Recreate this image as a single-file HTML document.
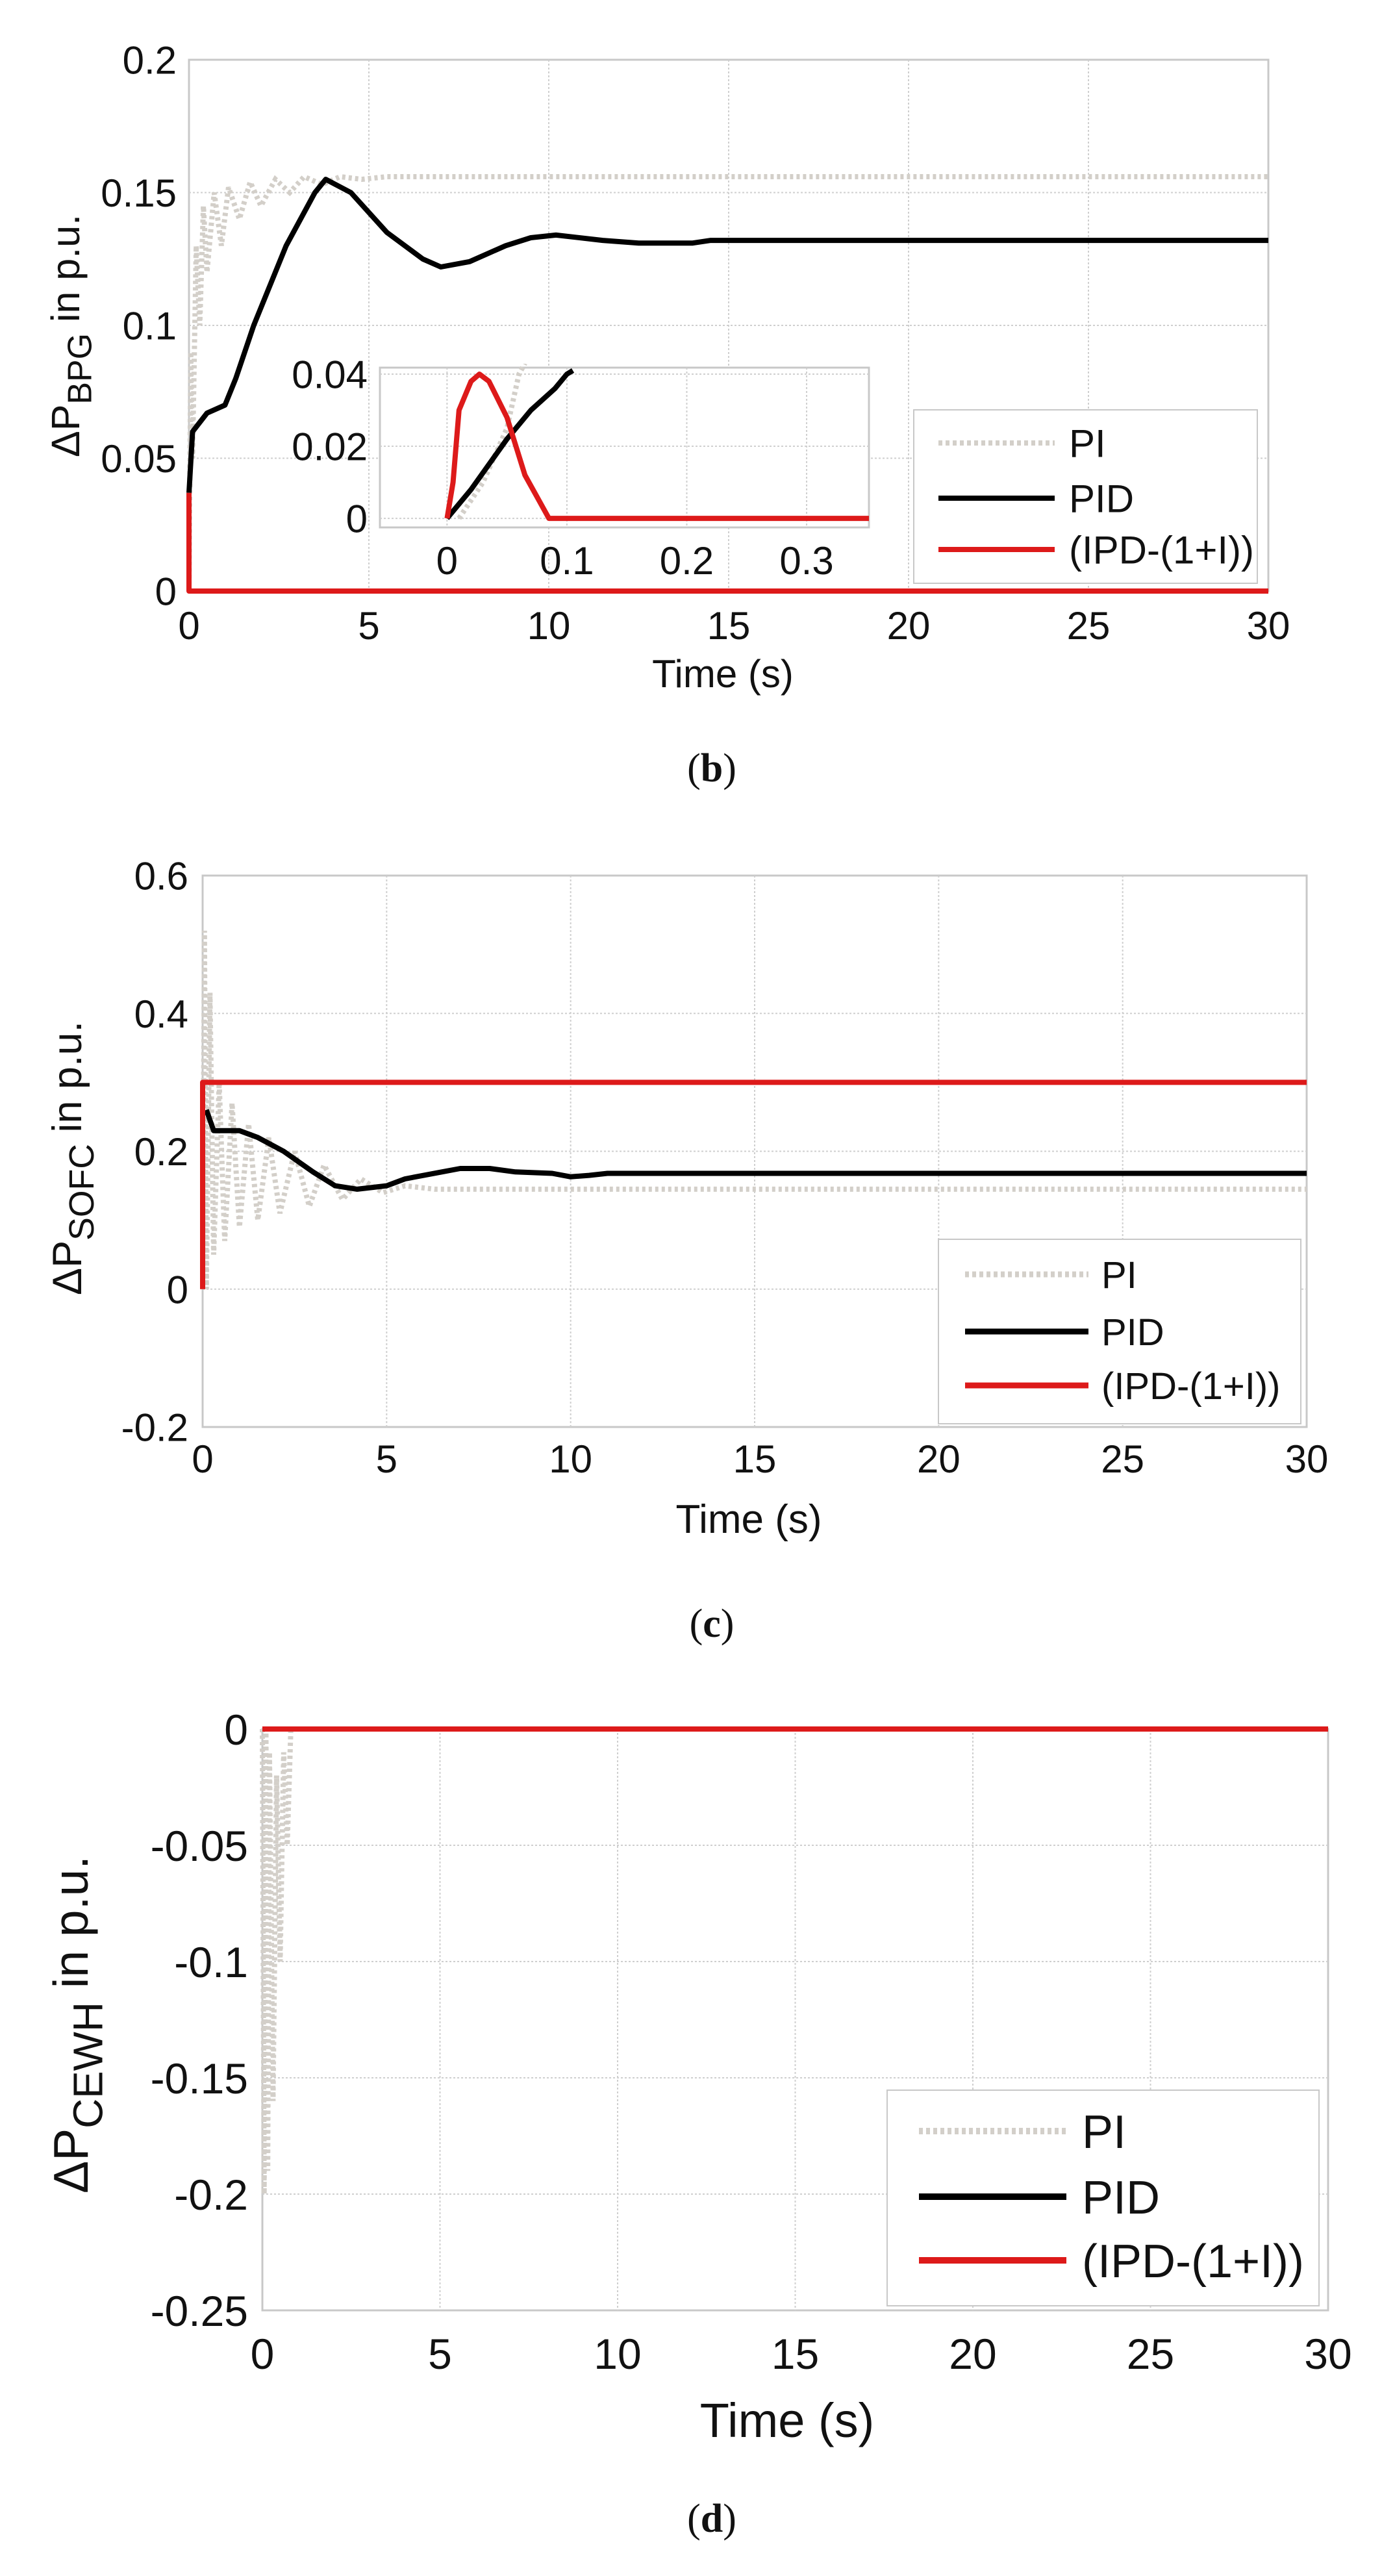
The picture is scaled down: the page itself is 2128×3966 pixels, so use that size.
<!DOCTYPE html>
<html><head><meta charset="utf-8"><style>
html,body{margin:0;padding:0;background:#fff}
svg{display:block}
text{font-family:"Liberation Sans",Arial,sans-serif;fill:#111}
.cap{font-family:"Liberation Serif",serif}
</style></head><body>
<svg id="fig" width="2128" height="3966" viewBox="0 0 2128 3966" xmlns="http://www.w3.org/2000/svg">
<rect width="2128" height="3966" fill="#fff"/>
</svg>
<script>
// ---- Panel (b) data ----
const bXTicks=[0,5,10,15,20,25,30];
const bYTicks=[0,0.05,0.1,0.15,0.2];
const bYTickLabels=["0","0.05","0.1","0.15","0.2"];
const bPIt=[0,0.05,0.1,0.2,0.3,0.4,0.5,0.7,0.9,1.1,1.4,1.7,2.0,2.4,2.8,3.2,3.7,4.2,4.8,5.5,6,30];
const bPIv=[0,0.09,0.05,0.13,0.1,0.145,0.12,0.15,0.13,0.152,0.14,0.154,0.145,0.155,0.15,0.156,0.153,0.156,0.155,0.156,0.156,0.156];
const bPIDt=[0,0.1,0.5,1,1.3,1.8,2.7,3.5,3.8,4.5,5.5,6.5,7,7.8,8.8,9.5,10.2,11.5,12.5,14,14.5,30];
const bPIDv=[0.037,0.06,0.067,0.07,0.08,0.1,0.13,0.15,0.155,0.15,0.135,0.125,0.122,0.124,0.13,0.133,0.134,0.132,0.131,0.131,0.132,0.132];
const bIPDt=[0,0,0.085,30];
const bIPDv=[0.037,0,0,0];
// inset
const iXTicks=[0,0.1,0.2,0.3];
const iYTicks=[0,0.02,0.04];
const iIPDt=[0,0.005,0.01,0.02,0.027,0.035,0.05,0.065,0.075,0.085,0.352];
const iIPDv=[0,0.01,0.03,0.038,0.04,0.038,0.028,0.012,0.006,0,0];
const iPIDt=[0,0.02,0.05,0.07,0.09,0.1,0.105];
const iPIDv=[0,0.008,0.022,0.03,0.036,0.04,0.041];
const iPIt=[0.01,0.03,0.05,0.06,0.065];
const iPIv=[0,0.01,0.025,0.04,0.043];
// ---- Panel (c) data ----
const cXTicks=[0,5,10,15,20,25,30];
const cYTicks=[-0.2,0,0.2,0.4,0.6];
const cYTickLabels=["-0.2","0","0.2","0.4","0.6"];
const cPIt=[0,0.05,0.1,0.2,0.3,0.45,0.6,0.8,1.0,1.25,1.5,1.8,2.1,2.5,2.9,3.3,3.8,4.3,4.9,5.5,6.3,30];
const cPIv=[0,0.52,0.0,0.43,0.05,0.3,0.07,0.27,0.09,0.24,0.1,0.22,0.11,0.2,0.12,0.18,0.13,0.16,0.14,0.15,0.145,0.145];
const cPIDt=[0.1,0.3,1,1.5,2.2,3,3.6,4.2,5,5.5,6.5,7,7.8,8.5,9.5,10,10.5,11,30];
const cPIDv=[0.26,0.23,0.23,0.22,0.2,0.17,0.15,0.145,0.15,0.16,0.17,0.175,0.175,0.17,0.168,0.163,0.165,0.168,0.168];
const cIPDt=[0,0,30];
const cIPDv=[0,0.3,0.3];
// ---- Panel (d) data ----
const dXTicks=[0,5,10,15,20,25,30];
const dYTicks=[-0.25,-0.2,-0.15,-0.1,-0.05,0];
const dYTickLabels=["-0.25","-0.2","-0.15","-0.1","-0.05","0"];
const dPIt=[0,0.05,0.1,0.15,0.2,0.3,0.4,0.5,0.6,0.7,0.8,0.9,30];
const dPIv=[0,-0.2,0,-0.19,-0.01,-0.16,-0.02,-0.1,-0.01,-0.05,0,0,0];
const dPIDt=[0,30];
const dPIDv=[0,0];
const dIPDt=[0,30];
const dIPDv=[0,0];

const NS="http://www.w3.org/2000/svg";
const svg=document.getElementById('fig');
function mk(tag,attrs,parent){const e=document.createElementNS(NS,tag);for(const k in attrs)e.setAttribute(k,attrs[k]);(parent||svg).appendChild(e);return e;}
function pathFrom(ts,vs,sx,sy){let d='';for(let i=0;i<ts.length;i++){d+=(i?'L':'M')+sx(ts[i]).toFixed(1)+' '+sy(vs[i]).toFixed(1);}return d;}

function panel(p){
  const g=mk('g',{});
  
  
  const sx=v=>p.L+(v-p.x0)/(p.x1-p.x0)*(p.R-p.L);
  const sy=v=>p.B-(v-p.y0)/(p.y1-p.y0)*(p.B-p.T);
  mk('rect',{x:p.L,y:p.T,width:p.R-p.L,height:p.B-p.T,fill:'#fff',stroke:'#c8c8c8','stroke-width':3},g);
  p.xt.forEach((t,i)=>{
    const x=sx(t);
    if(t>p.x0&&t<p.x1){const gl=mk('line',{x1:x,x2:x,y1:p.T,y2:p.B,stroke:'#cfcfcf','stroke-width':2,'stroke-dasharray':'3 3'},g);
    
    }
    const tx=mk('text',{x:x,y:p.xlY,'font-size':p.fs,'text-anchor':'middle'},g);tx.textContent=p.xl?p.xl[i]:String(t);
    
    
  });
  p.yt.forEach((t,i)=>{
    const y=sy(t);
    if(t>p.y0&&t<p.y1){const gl=mk('line',{x1:p.L,x2:p.R,y1:y,y2:y,stroke:'#cfcfcf','stroke-width':2,'stroke-dasharray':'3 3'},g);
    
    }
    const tx=mk('text',{x:p.ylX,y:y+p.fs*0.36,'font-size':p.fs,'text-anchor':'end'},g);tx.textContent=p.yl[i];
    
    
  });
  const clip=mk('clipPath',{id:'c'+p.name},g);mk('rect',{x:p.L-6,y:p.T-6,width:p.R-p.L+12,height:p.B-p.T+12},clip);
  const sg=mk('g',{'clip-path':'url(#c'+p.name+')'},g);
  const pi=mk('path',{d:pathFrom(p.piT,p.piV,sx,sy),fill:'none',stroke:'#d3cfc9','stroke-width':p.lw,'stroke-dasharray':'5 5'},sg);
  
  
  const pid=mk('path',{d:pathFrom(p.pidT,p.pidV,sx,sy),fill:'none',stroke:'#000','stroke-width':p.lw,'stroke-linejoin':'round'},sg);
  
  
  const ipd=mk('path',{d:pathFrom(p.ipdT,p.ipdV,sx,sy),fill:'none',stroke:'#dd1a1a','stroke-width':p.lw,'stroke-linejoin':'round'},sg);
  
  
  return {g,sx,sy};
}
function axisTexts(p){
  const t=mk('text',{x:p.xTitle[0],y:p.xTitle[1],'font-size':p.tfs,'text-anchor':'middle'});t.textContent='Time (s)';
  
  
  const yt=mk('text',{x:0,y:0,'font-size':p.yfs,'text-anchor':'middle',transform:`translate(${p.yTitle[0]},${p.yTitle[1]}) rotate(-90)`});
  
  
  const a=mk('tspan',{},yt);a.textContent='ΔP';
  const b=mk('tspan',{dy:p.yfs*0.3,'font-size':p.yfs*0.85},yt);b.textContent=p.sub;
  const c=mk('tspan',{dy:-p.yfs*0.3},yt);c.textContent=' in p.u.';
  const cap=mk('text',{x:1096,y:p.capY,'font-size':62,'text-anchor':'middle',class:'cap'});
  
  
  const c1=mk('tspan',{},cap);c1.textContent='(';const c2=mk('tspan',{'font-weight':'bold'},cap);c2.textContent=p.cap;const c3=mk('tspan',{},cap);c3.textContent=')';
}
function legend(l){
  const g=mk('g',{});
  
  
  mk('rect',{x:l.x,y:l.y,width:l.w,height:l.h,fill:'#fff',stroke:'#c8c8c8','stroke-width':2},g);
  const items=[['PI','#d3cfc9','6 5'],['PID','#000',''],['(IPD-(1+I))','#dd1a1a','']];
  items.forEach((it,i)=>{
    const e=mk('g',{},g);
    
    
    const y=l.ys[i];
    const ln=mk('line',{x1:l.lx1,x2:l.lx2,y1:y,y2:y,stroke:it[1],'stroke-width':l.lw},e);
    if(it[2])ln.setAttribute('stroke-dasharray',it[2]);
    const t=mk('text',{x:l.tx,y:y+l.fs*0.36,'font-size':l.fs},e);t.textContent=it[0];
  });
}
// Panel b
panel({name:'chart-b',L:291,R:1953,T:92,B:910,x0:0,x1:30,y0:0,y1:0.2,xt:bXTicks,yt:bYTicks,yl:bYTickLabels,fs:60,xlY:984,ylX:272,lw:8,
  piT:bPIt,piV:bPIv,pidT:bPIDt,pidV:bPIDv,ipdT:bIPDt,ipdV:bIPDv});
axisTexts({tfs:60,yfs:61,xTitle:[1113,1058],yTitle:[122,517],sub:'BPG',capY:1203,cap:'b'});
panel({name:'chart-b-inset',L:585,R:1338,T:566,B:812,x0:-0.056,x1:0.352,y0:-0.0025,y1:0.0418,xt:iXTicks,xl:['0','0.1','0.2','0.3'],yt:iYTicks,yl:['0','0.02','0.04'],fs:60,xlY:884,ylX:566,lw:8,
  piT:iPIt,piV:iPIv,pidT:iPIDt,pidV:iPIDv,ipdT:iIPDt,ipdV:iIPDv});
legend({x:1407,y:631,w:529,h:267,ys:[682,767,846],lx1:1445,lx2:1624,tx:1646,fs:60,lw:8});
// Panel c
panel({name:'chart-c',L:312,R:2012,T:1348,B:2197,x0:0,x1:30,y0:-0.2,y1:0.6,xt:cXTicks,yt:cYTicks,yl:cYTickLabels,fs:60,xlY:2267,ylX:290,lw:8,
  piT:cPIt,piV:cPIv,pidT:cPIDt,pidV:cPIDv,ipdT:cIPDt,ipdV:cIPDv});
axisTexts({tfs:62,yfs:63,xTitle:[1153,2360],yTitle:[125,1783],sub:'SOFC',capY:2520,cap:'c'});
legend({x:1445,y:1908,w:558,h:284,ys:[1962,2050,2133],lx1:1486,lx2:1676,tx:1696,fs:58,lw:9});
// Panel d
panel({name:'chart-d',L:404,R:2045,T:2662,B:3557,x0:0,x1:30,y0:-0.25,y1:0,xt:dXTicks,yt:dYTicks,yl:dYTickLabels,fs:66,xlY:3647,ylX:382,lw:8,
  piT:dPIt,piV:dPIv,pidT:dPIDt,pidV:dPIDv,ipdT:dIPDt,ipdV:dIPDv});
axisTexts({tfs:74,yfs:75,xTitle:[1212,3752],yTitle:[135,3117],sub:'CEWH',capY:3898,cap:'d'});
legend({x:1366,y:3218,w:665,h:332,ys:[3281,3382,3480],lx1:1415,lx2:1642,tx:1666,fs:72,lw:10});
</script>
</body></html>
